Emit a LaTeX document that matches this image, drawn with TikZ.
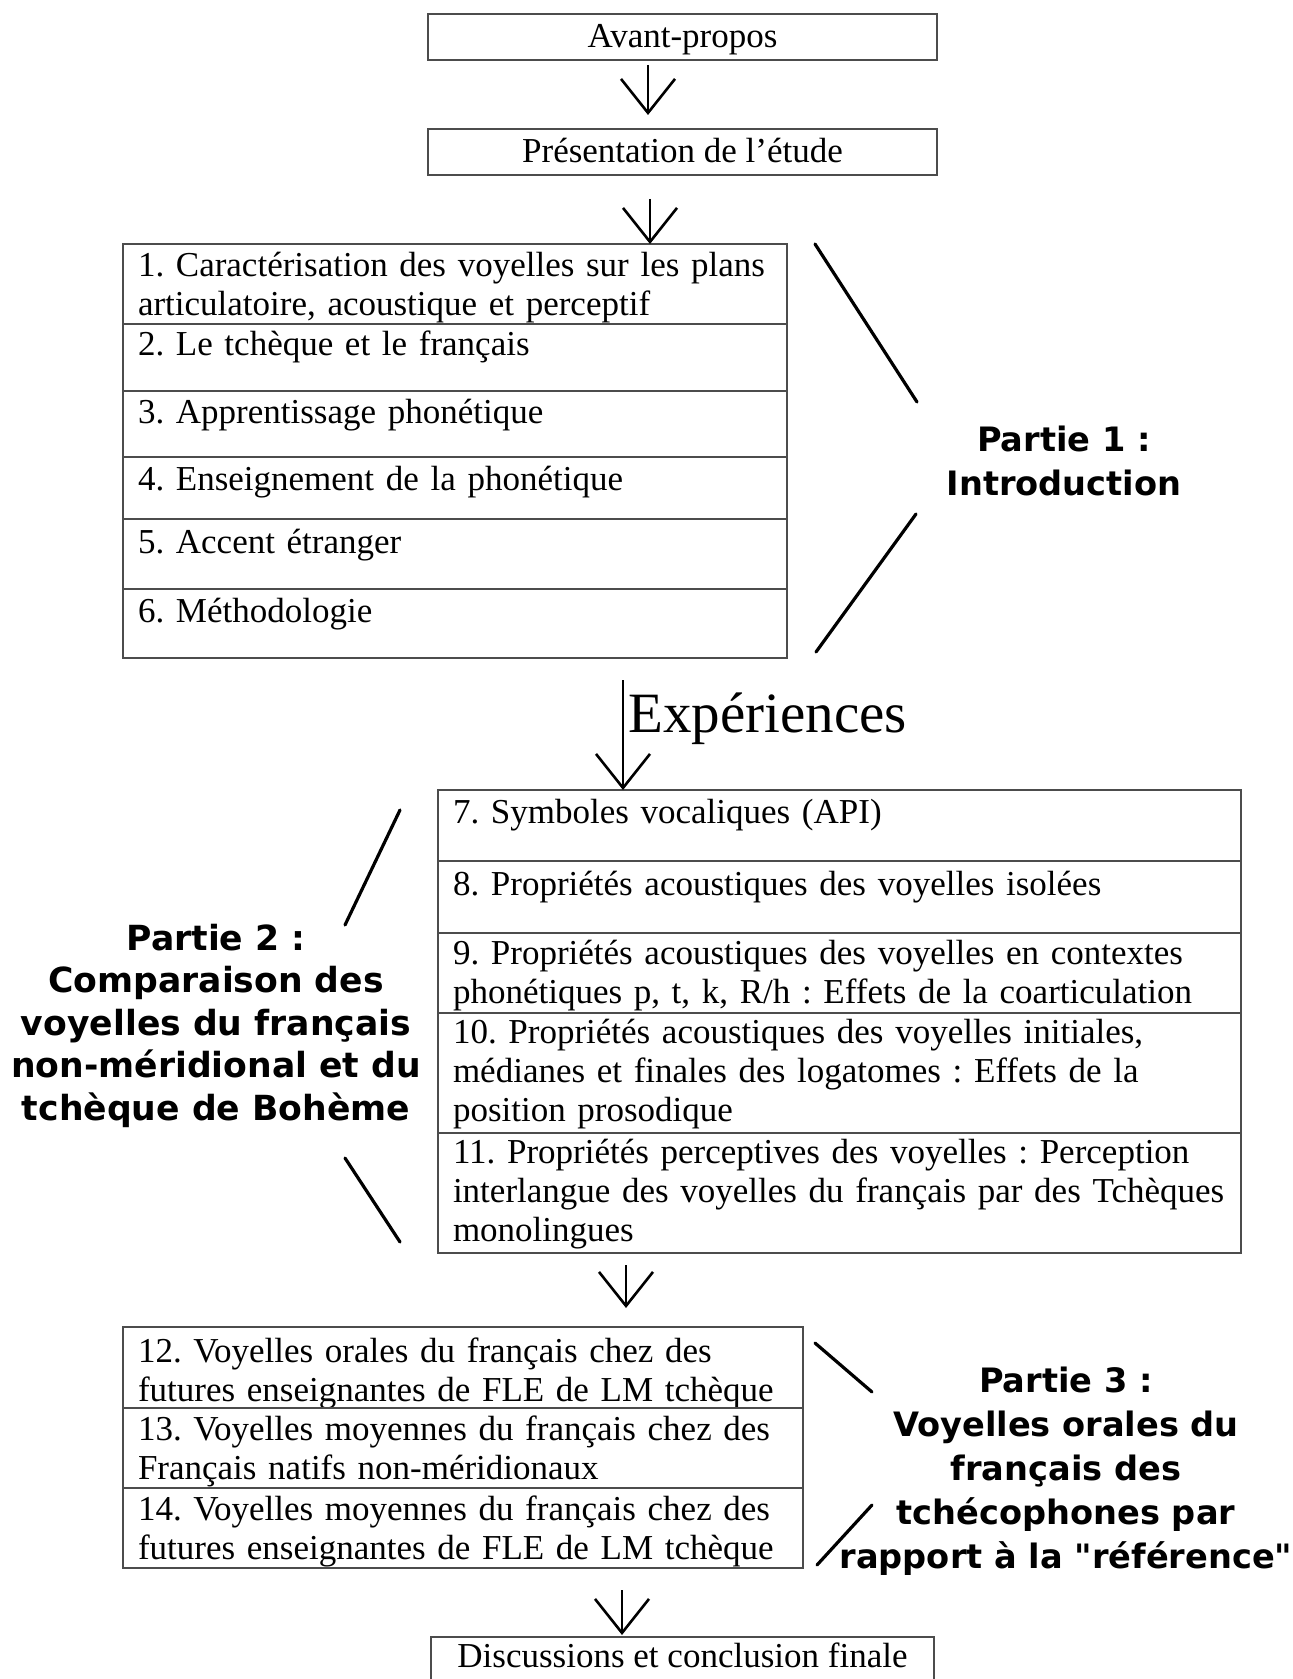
\documentclass[tikz,border=0pt]{standalone}
\usepackage{fontspec}
\setmainfont{Liberation Serif}
\newfontfamily\partfont{DejaVu Sans}
\usetikzlibrary{positioning,calc,arrows.meta}
\frenchspacing
\def\rowsize{\fontsize{17.5}{19.5}\selectfont}
\def\partsize{\partfont\bfseries\fontsize{16.8}{22}\selectfont}
\tikzstyle{flow} = [line width=1.3pt,-{Straight Barb[length=17pt,width=27pt]}]

\begin{document}
\begin{tikzpicture}[x=0.5pt,y=-0.5pt]
    \tikzstyle{box}=[draw=black!70, line width=0.8pt, inner sep=0pt, outer sep=0pt]
    \tikzstyle{head}=[box, minimum width=254.5pt, text height=17pt, text depth=6pt, font=\rowsize, anchor=north]
    \tikzstyle{row}=[box, anchor=north west, inner xsep=7.5pt, align=left, font=\rowsize]
    \tikzstyle{groupA}=[text width=317pt]
    \tikzstyle{groupB}=[text width=386.5pt]
    \tikzstyle{groupC}=[text width=325pt]
    \tikzstyle{part}=[align=center, font=\partsize, anchor=base, inner sep=0pt]
    \tikzstyle{bracket}=[line width=1.6pt, line cap=round]

    \useasboundingbox (0,0) rectangle (1293,1679);
    \clip (0,0) rectangle (1293,1679);

    % Top boxes
    \node[head] (avant) at (682.5,14) {Avant-propos};
    \node[head] (pres) at (682.5,129) {Présentation de l’étude};

    % Part 1 rows
    \node[row, groupA, text height=16.5pt, text depth=23.5pt] (r1) at (123,244)
        {1. Caractérisation des voyelles sur les plans\\articulatoire, acoustique et perceptif};
    \foreach \i/\hgt/\dpt/\txt in {2/16/17.5/{2. Le tchèque et le français},
                                   3/16/17/{3. Apprentissage phonétique},
                                   4/16.5/14.5/{4. Enseignement de la phonétique},
                                   5/17/18/{5. Accent étranger},
                                   6/16.5/18/{6. Méthodologie}}
    {
        \pgfmathtruncatemacro\prev{\i-1}
        \node[row, groupA, text height=\hgt pt, text depth=\dpt pt, below=0pt of r\prev] (r\i) {\txt};
    }

    % Part 2 rows
    \node[row, groupB, text height=16.5pt, text depth=19pt] (r7) at (438,790)
        {7. Symboles vocaliques (API)};
    \foreach \i/\hgt/\dpt/\txt in {8/17/19/{8. Propriétés acoustiques des voyelles isolées},
                                   9/15.5/24.5/{9. Propriétés acoustiques des voyelles en contextes\\phonétiques p, t, k, R/h : Effets de la coarticulation},
                                   10/15/45/{10. Propriétés acoustiques des voyelles initiales,\\médianes et finales des logatomes : Effets de la\\position prosodique},
                                   11/15/45/{11. Propriétés perceptives des voyelles : Perception\\interlangue des voyelles du français par des Tchèques\\monolingues}}
    {
        \pgfmathtruncatemacro\prev{\i-1}
        \node[row, groupB, text height=\hgt pt, text depth=\dpt pt, below=0pt of r\prev] (r\i) {\txt};
    }

    % Part 3 rows
    \node[row, groupC, text height=17.5pt, text depth=23pt] (r12) at (123,1327)
        {12. Voyelles orales du français chez des\\futures enseignantes de FLE de LM tchèque};
    \node[row, groupC, text height=16pt, text depth=24pt, below=0pt of r12] (r13)
        {13. Voyelles moyennes du français chez des\\Français natifs non-méridionaux};
    \node[row, groupC, text height=16pt, text depth=24pt, below=0pt of r13] (r14)
        {14. Voyelles moyennes du français chez des\\futures enseignantes de FLE de LM tchèque};

    % Last box
    \node[head, minimum width=251.5pt, text height=15pt, text depth=12pt] (concl) at (682.5,1637) {Discussions et conclusion finale};

    % Part labels
    \node[part] (part1) at (1064,495) {Partie 1 :\\Introduction};
    \node[part, font=\partfont\bfseries\fontsize{17.3}{21.25}\selectfont] (part2) at (216,1120)
        {Partie 2 :\\Comparaison des\\voyelles du français\\non-méridional et du\\tchèque de Bohème};
    \node[part] (part3) at (1066,1568)
        {Partie 3 :\\Voyelles orales du\\français des\\tchécophones par\\rapport à la "référence"};
    \node[font=\fontsize{28.5}{30}\selectfont, anchor=base west, inner sep=0pt] (exp) at (628,732) {Expériences};

    % Arrows
    \coordinate (x1) at (648,0);
    \coordinate (x2) at (650,0);
    \coordinate (x3) at (623,0);
    \coordinate (x4) at (626,0);
    \coordinate (x5) at (622,0);
    \draw[flow, shorten <=2.5pt, shorten >=7pt] (avant.south -| x1) -- (pres.north -| x1);
    \draw[flow, shorten <=12pt] (pres.south -| x2) -- (r1.north -| x2);
    \draw[flow, shorten <=11pt] (r6.south -| x3) -- (r7.north -| x3);
    \draw[flow, shorten <=6pt, shorten >=9.5pt] (r11.south -| x4) -- (r12.north -| x4);
    \draw[flow, shorten <=11pt, shorten >=1pt] (r14.south -| x5) -- (concl.north -| x5);

    % Brackets
    \draw[bracket] ($(r1.north east)+(28,0)$) -- ++(102,158);
    \draw[bracket] ($(r6.south east)+(29,-6)$) -- ++(100,-138);
    \draw[bracket] ($(r7.north west)+(-38,20)$) -- ++(-55,115);
    \draw[bracket] ($(r11.south west)+(-38,-11)$) -- ++(-55,-84);
    \draw[bracket] ($(r12.north east)+(12,16)$) -- ++(57,49);
    \draw[bracket] ($(r14.south east)+(14,-3)$) -- ++(55,-60);
\end{tikzpicture}
\end{document}
